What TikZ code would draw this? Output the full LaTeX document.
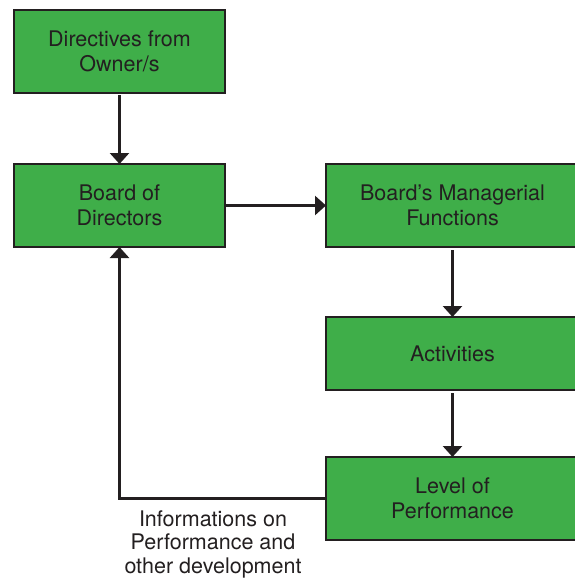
\documentclass[tikz,border=0pt]{standalone}
\usepackage{fontspec}
\setmainfont{TeX Gyre Heros}
\usepackage{tikz}
\usetikzlibrary{arrows.meta,positioning,calc}
\definecolor{boxgreen}{RGB}{63,174,73}
\definecolor{inkdark}{RGB}{35,31,32}

\begin{document}
\begin{tikzpicture}[>={Triangle[width=19pt,length=11pt]},x=1pt,y=-1pt,semithick]
	\tikzset{block/.style = {rectangle,draw=inkdark,fill=boxgreen,line width=2.6pt,text=inkdark,inner sep=0pt,outer sep=0pt,align=center,font=\fontsize{21.5}{25}\selectfont}}
	\tikzset{edge/.style = {->,draw=inkdark,line width=2.6pt}}
	\useasboundingbox (0,0) rectangle (574,578);
	% vertices
	\node[block,minimum width=211pt,minimum height=83pt] (DO) at (119.5,51.5) {Directives from\\Owner/s};
	\node[block,minimum width=211pt,minimum height=83pt] (BD) at (119.5,205.5) {Board of\\Directors};
	\node[block,minimum width=253pt,minimum height=83pt] (BM) at (452.5,205.5) {Board’s Managerial\\Functions};
	\node[block,minimum width=253pt,minimum height=73pt] (AC) at (452.5,353.5) {Activities};
	\node[block,minimum width=253pt,minimum height=83pt] (LP) at (452.5,498.5) {Level of\\Performance};
	\node[anchor=north,inner sep=0pt,align=center,text=inkdark,font=\fontsize{21.5}{23.5}\selectfont] (IP) at (213,510) {Informations on\\Performance and\\other development};
	%edges
	\draw[edge,shorten <=2pt] (DO) -- (BD);
	\draw[edge] (BD) -- (BM);
	\draw[edge,shorten <=3pt] (BM.south -| AC.north) -- (AC);
	\draw[edge,shorten <=3pt] (AC) -- (LP);
	\draw[edge] (LP.west) -| (BD.south);
\end{tikzpicture}
\end{document}
